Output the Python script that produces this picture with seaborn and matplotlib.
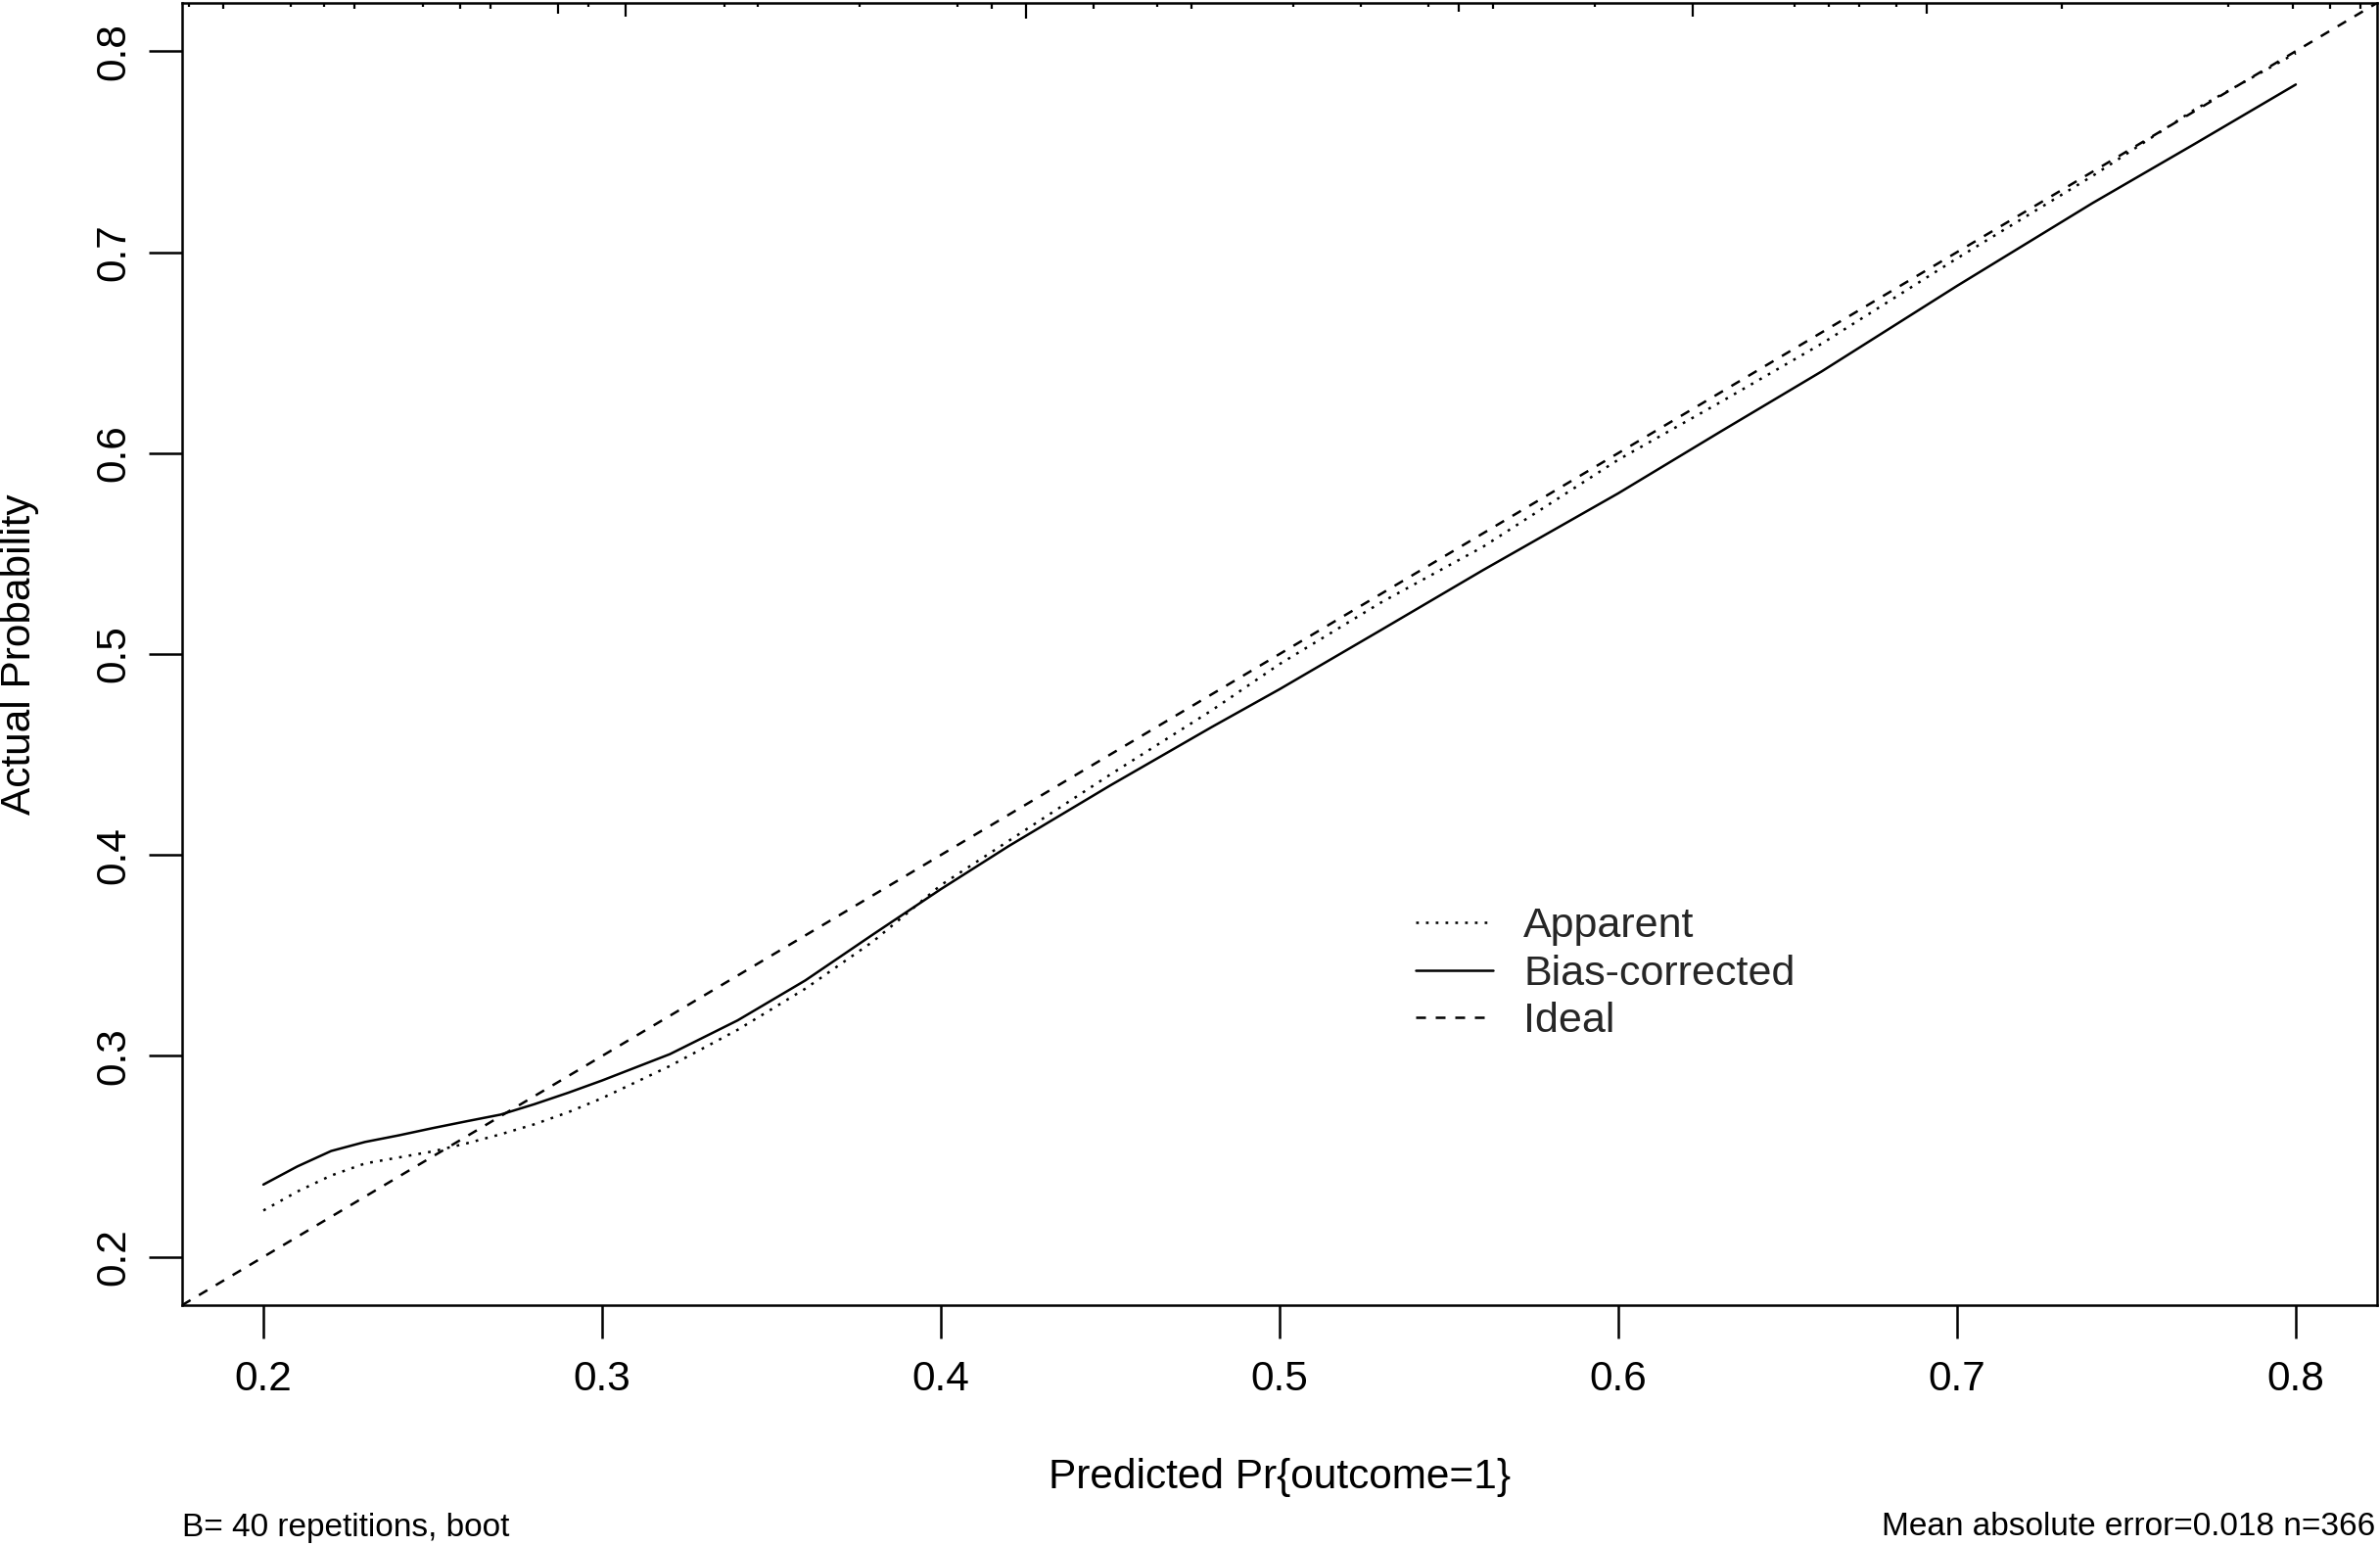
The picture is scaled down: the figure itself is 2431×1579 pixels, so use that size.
import numpy as np
import pandas as pd
import matplotlib
matplotlib.use("Agg")
import matplotlib.pyplot as plt
import seaborn as sns

# ---------------- data ----------------
pred_x = [0.20, 0.21, 0.22, 0.23, 0.24, 0.25, 0.26, 0.27, 0.28, 0.29, 0.30,
          0.32, 0.34, 0.36, 0.38, 0.40, 0.42, 0.45, 0.48, 0.50, 0.53, 0.56,
          0.60, 0.63, 0.66, 0.70, 0.74, 0.77, 0.80]
apparent_y = [0.2231, 0.2325, 0.2405, 0.2465, 0.2495, 0.2525, 0.2565, 0.2610,
              0.2660, 0.2720, 0.2790, 0.2950, 0.3130, 0.3335, 0.3570, 0.3850,
              0.4070, 0.4400, 0.4720, 0.4950, 0.5257, 0.5533, 0.5967, 0.6252,
              0.6544, 0.6969, 0.7379, 0.7708, 0.7990]
bias_corrected_y = [0.2360, 0.2450, 0.2527, 0.2572, 0.2605, 0.2641, 0.2675,
                    0.2708, 0.2760, 0.2817, 0.2878, 0.3009, 0.3177, 0.3376,
                    0.3605, 0.3830, 0.4044, 0.4346, 0.4637, 0.4825, 0.5120,
                    0.5417, 0.5800, 0.6105, 0.6406, 0.6832, 0.7244, 0.7537,
                    0.7834]
ideal_pts = [0.2, 0.8]

# distribution of predicted values (spike histogram along the top)
spike_x = [0.178, 0.188, 0.208, 0.218, 0.227, 0.247, 0.258, 0.267, 0.287, 0.296,
           0.307, 0.336, 0.346, 0.376, 0.405, 0.415, 0.425, 0.445, 0.464, 0.474,
           0.504, 0.524, 0.544, 0.553, 0.563, 0.593, 0.622, 0.652, 0.662, 0.671,
           0.682, 0.691, 0.731, 0.780, 0.799, 0.810, 0.819]
spike_count = [1, 2, 1, 1, 2, 1, 2, 2, 4, 1,
               5, 1, 1, 1, 1, 2, 6, 2, 1, 2,
               1, 1, 1, 3, 2, 1, 5, 1, 1, 1,
               1, 4, 2, 1, 2, 2, 2]

x_ticks = [0.2, 0.3, 0.4, 0.5, 0.6, 0.7, 0.8]
y_ticks = [0.2, 0.3, 0.4, 0.5, 0.6, 0.7, 0.8]
tick_labels = ["0.2", "0.3", "0.4", "0.5", "0.6", "0.7", "0.8"]
legend_labels = ["Apparent", "Bias-corrected", "Ideal"]
x_title = "Predicted Pr{outcome=1}"
y_title = "Actual Probability"
note_left = "B= 40 repetitions, boot"
note_right = "Mean absolute error=0.018 n=366"

# ---------------- figure ----------------
sns.set_theme(style="ticks")
plt.rcParams['font.family'] = ['Liberation Sans', 'DejaVu Sans']

W, H = 2431, 1579
fig = plt.figure(figsize=(W / 100, H / 100), dpi=100)
fig.patch.set_facecolor("white")
ax = fig.add_axes([186 / W, 1 - 1333 / H, 2242 / W, 1330 / H])
ax.set_facecolor("white")

LW = 1.8
FS = 30.5
df = pd.DataFrame({"x": pred_x, "apparent": apparent_y, "bias": bias_corrected_y})

sns.lineplot(data=df, x="x", y="apparent", ax=ax, color="black", lw=LW,
             linestyle=(0, (1.1, 2.9)), label=legend_labels[0], sort=True,
             estimator=None)
sns.lineplot(data=df, x="x", y="bias", ax=ax, color="black", lw=LW,
             linestyle="-", label=legend_labels[1], sort=True, estimator=None)
ax.axline((ideal_pts[0], ideal_pts[0]), (ideal_pts[1], ideal_pts[1]),
          color="black", lw=LW, linestyle=(0, (4, 4)), label=legend_labels[2])

# spike histogram hanging from the top border
px = 1.0 / 1330.0
ymins = 1 - (1.2 + 2.5 * np.array(spike_count)) * px
ax.vlines(spike_x, ymins, 1.0, transform=ax.get_xaxis_transform(),
          color="black", lw=1.6)

ax.set_xlim(0.176, 0.824)
ax.set_ylim(0.176, 0.824)

ax.set_xticks(x_ticks)
ax.set_xticklabels(tick_labels)
ax.set_yticks(y_ticks)
ax.set_yticklabels(tick_labels)
ax.tick_params(axis="both", which="major", direction="out", length=24.5,
               width=LW, labelsize=FS, colors="black", top=False, right=False)
ax.tick_params(axis="x", pad=16)
ax.tick_params(axis="y", pad=11)
for lab in ax.get_yticklabels():
    lab.set_rotation(90)
    lab.set_va("center")
    lab.set_ha("right")

for s in ax.spines.values():
    s.set_visible(True)
    s.set_linewidth(LW)
    s.set_color("black")

ax.set_xlabel(x_title, fontsize=FS, color="black")
ax.set_ylabel(y_title, fontsize=FS, color="black")
ax.xaxis.set_label_coords(0.5, (1333 - 1509) / 1330)
ax.xaxis.label.set_va("center")
ax.yaxis.set_label_coords((20 - 186) / 2242, 0.5)
ax.yaxis.label.set_va("center")

handles, labels = ax.get_legend_handles_labels()
order = [labels.index(l) for l in legend_labels]
leg = ax.legend([handles[i] for i in order], [labels[i] for i in order],
                loc="upper left", bbox_to_anchor=((1446 - 186) / 2242, (1333 - 926) / 1330),
                frameon=False, fontsize=31, handlelength=1.84, handletextpad=0.72,
                labelspacing=0.2, borderpad=0, borderaxespad=0)

fig.text(186 / W, 1 - 1560 / H, note_left, ha="left", va="center", fontsize=24,
         color="black")
fig.text(2426 / W, 1 - 1560 / H, note_right, ha="right", va="center", fontsize=24,
         color="black")

fig.savefig("out.png", dpi=100, facecolor="white")
